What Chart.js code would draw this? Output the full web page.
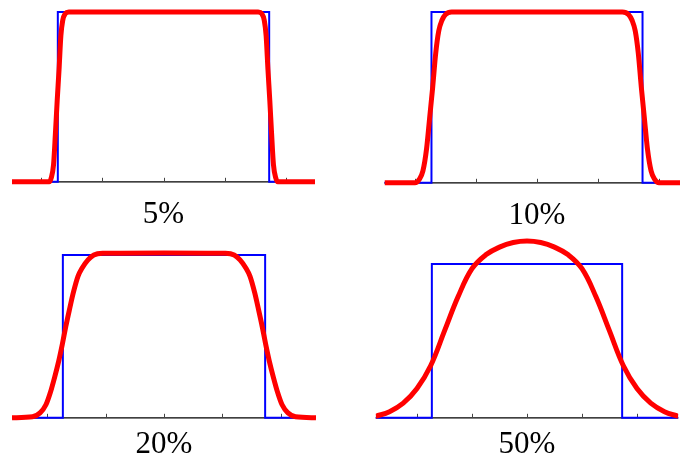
<!DOCTYPE html>
<html>
<head>
<meta charset="utf-8">
<script src="https://cdn.jsdelivr.net/npm/chart.js@4/dist/chart.umd.min.js"></script>
<style>
  html, body { margin: 0; padding: 0; background: #fff; overflow: hidden; }
  #wrap { position: relative; width: 680px; height: 462px; overflow: hidden; }
  #wrap canvas { position: absolute; }
</style>
</head>
<body>
<div id="wrap"></div>
<script>
// tick marks on the axis and the box function (same for every panel)
const tickValues = [-2, -1, 0, 1, 2];
const boxX = [-3, -1.73, -1.73, 1.73, 1.73, 3];
const boxY = [0, 0, 1, 1, 0, 0];

const labels = ['5%', '10%', '20%', '50%'];

// smoothed curves
const red5X = [-2.48, -1.87, -1.84, -1.80, -1.77, -1.74, -1.71, -1.68, -1.65, -1.61, -1.55, 0,
               1.55, 1.61, 1.65, 1.68, 1.71, 1.74, 1.77, 1.80, 1.84, 1.87, 2.48];
const red5Y = [0, 0, 0.02, 0.10, 0.28, 0.48, 0.66, 0.86, 0.95, 0.99, 1.0, 1.0,
               1.0, 0.99, 0.95, 0.86, 0.66, 0.48, 0.28, 0.10, 0.02, 0, 0];

const red10X = [-2.5, -2.0, -1.93, -1.87, -1.81, -1.76, -1.71, -1.66, -1.61, -1.56, -1.50, -1.40, 0,
                1.40, 1.50, 1.56, 1.61, 1.66, 1.71, 1.76, 1.81, 1.87, 1.93, 2.0, 2.5];
const red10Y = [0, 0, 0.02, 0.07, 0.20, 0.38, 0.56, 0.76, 0.89, 0.95, 0.985, 1.0, 1.0,
                1.0, 0.985, 0.95, 0.89, 0.76, 0.56, 0.38, 0.20, 0.07, 0.02, 0, 0];

const red20X = [-2.6, -2.25, -2.12, -2.02, -1.94, -1.87, -1.80, -1.74, -1.68, -1.62, -1.55, -1.47, -1.40, -1.30, -1.20, -1.05, 0,
                1.05, 1.20, 1.30, 1.40, 1.47, 1.55, 1.62, 1.68, 1.74, 1.80, 1.87, 1.94, 2.02, 2.12, 2.25, 2.6];
const red20Y = [0, 0.006, 0.03, 0.08, 0.16, 0.25, 0.35, 0.45, 0.56, 0.66, 0.77, 0.87, 0.92, 0.97, 1.0, 1.01, 1.012,
                1.01, 1.0, 0.97, 0.92, 0.87, 0.77, 0.66, 0.56, 0.45, 0.35, 0.25, 0.16, 0.08, 0.03, 0.006, 0];

const red50X = [-2.75, -2.5, -2.25, -2.0, -1.75, -1.5, -1.25, -1.0, -0.75, -0.5, -0.25, 0,
                0.25, 0.5, 0.75, 1.0, 1.25, 1.5, 1.75, 2.0, 2.25, 2.5, 2.75];
const red50Y = [0.01, 0.04, 0.095, 0.19, 0.34, 0.565, 0.79, 0.97, 1.06, 1.11, 1.14, 1.15,
                1.14, 1.11, 1.06, 0.97, 0.79, 0.565, 0.34, 0.19, 0.095, 0.04, 0.01];

const redX = [red5X, red10X, red20X, red50X];
const redY = [red5Y, red10Y, red20Y, red50Y];

// where each panel sits on the page
const panels = [
  { left: 0,   top: 0,   w: 340, h: 233, pad: { left: 12,    right: 25,    top: 12, bottom: 0 }, xMin: -2.48, xMax: 2.48, yMax: 1.0,  titleTop: 14, smooth: 'monotone' },
  { left: 360, top: 0,   w: 340, h: 234, pad: { left: 24.5,  right: 10.5,  top: 12, bottom: 0 }, xMin: -2.5,  xMax: 2.5,  yMax: 1.0,  titleTop: 14, smooth: 'monotone' },
  { left: 0,   top: 232, w: 340, h: 231, pad: { left: 12,    right: 24,    top: 23, bottom: 0 }, xMin: -2.6,  xMax: 2.6,  yMax: 1.0,  titleTop: 8,  smooth: 'monotone' },
  { left: 360, top: 232, w: 340, h: 231, pad: { left: 15.75, right: 21.75, top: 9,  bottom: 0 }, xMin: -2.75, xMax: 2.75, yMax: 1.15, titleTop: 8,  smooth: 'default' }
];

function toPoints(xs, ys) {
  return xs.map((x, i) => ({ x: x, y: ys[i] }));
}

const axisPlugin = {
  id: 'axisLine',
  beforeDatasetsDraw(chart) {
    const { ctx, chartArea, scales } = chart;
    const y0 = scales.y.getPixelForValue(0);
    ctx.save();
    ctx.strokeStyle = '#000';
    ctx.lineWidth = 1.2;
    ctx.beginPath();
    ctx.moveTo(chartArea.left, y0);
    ctx.lineTo(chartArea.right, y0);
    ctx.stroke();
    ctx.strokeStyle = '#444';
    ctx.lineWidth = 1;
    for (const t of tickValues) {
      const px = Math.round(scales.x.getPixelForValue(t)) + 0.5;
      ctx.beginPath();
      ctx.moveTo(px, y0);
      ctx.lineTo(px, y0 - 4);
      ctx.stroke();
    }
    ctx.restore();
  }
};

const wrap = document.getElementById('wrap');

panels.forEach((p, i) => {
  const canvas = document.createElement('canvas');
  canvas.width = p.w;
  canvas.height = p.h;
  canvas.style.left = p.left + 'px';
  canvas.style.top = p.top + 'px';
  canvas.style.width = p.w + 'px';
  canvas.style.height = p.h + 'px';
  wrap.appendChild(canvas);

  new Chart(canvas.getContext('2d'), {
    type: 'line',
    data: {
      datasets: [
        {
          data: toPoints(redX[i], redY[i]),
          borderColor: '#ff0000',
          borderWidth: 5,
          cubicInterpolationMode: p.smooth,
          tension: 0.4,
          pointRadius: 0,
          fill: false,
          clip: { left: 0, right: 0, top: 6, bottom: 6 }
        },
        {
          data: toPoints(boxX, boxY),
          borderColor: '#0000ff',
          borderWidth: 2,
          tension: 0,
          pointRadius: 0,
          fill: false,
          clip: { left: 0, right: 0, top: 6, bottom: 6 }
        }
      ]
    },
    options: {
      responsive: false,
      animation: false,
      layout: { padding: p.pad },
      scales: {
        x: { type: 'linear', min: p.xMin, max: p.xMax, display: false },
        y: { min: 0, max: p.yMax, display: false }
      },
      plugins: {
        legend: { display: false },
        tooltip: { enabled: false },
        title: {
          display: true,
          text: labels[i],
          position: 'bottom',
          color: '#000',
          font: { family: 'Liberation Serif', size: 31, weight: 'normal', lineHeight: 1.2 },
          padding: { top: p.titleTop, bottom: 0 }
        }
      }
    },
    plugins: [axisPlugin]
  });
});
</script>
</body>
</html>
